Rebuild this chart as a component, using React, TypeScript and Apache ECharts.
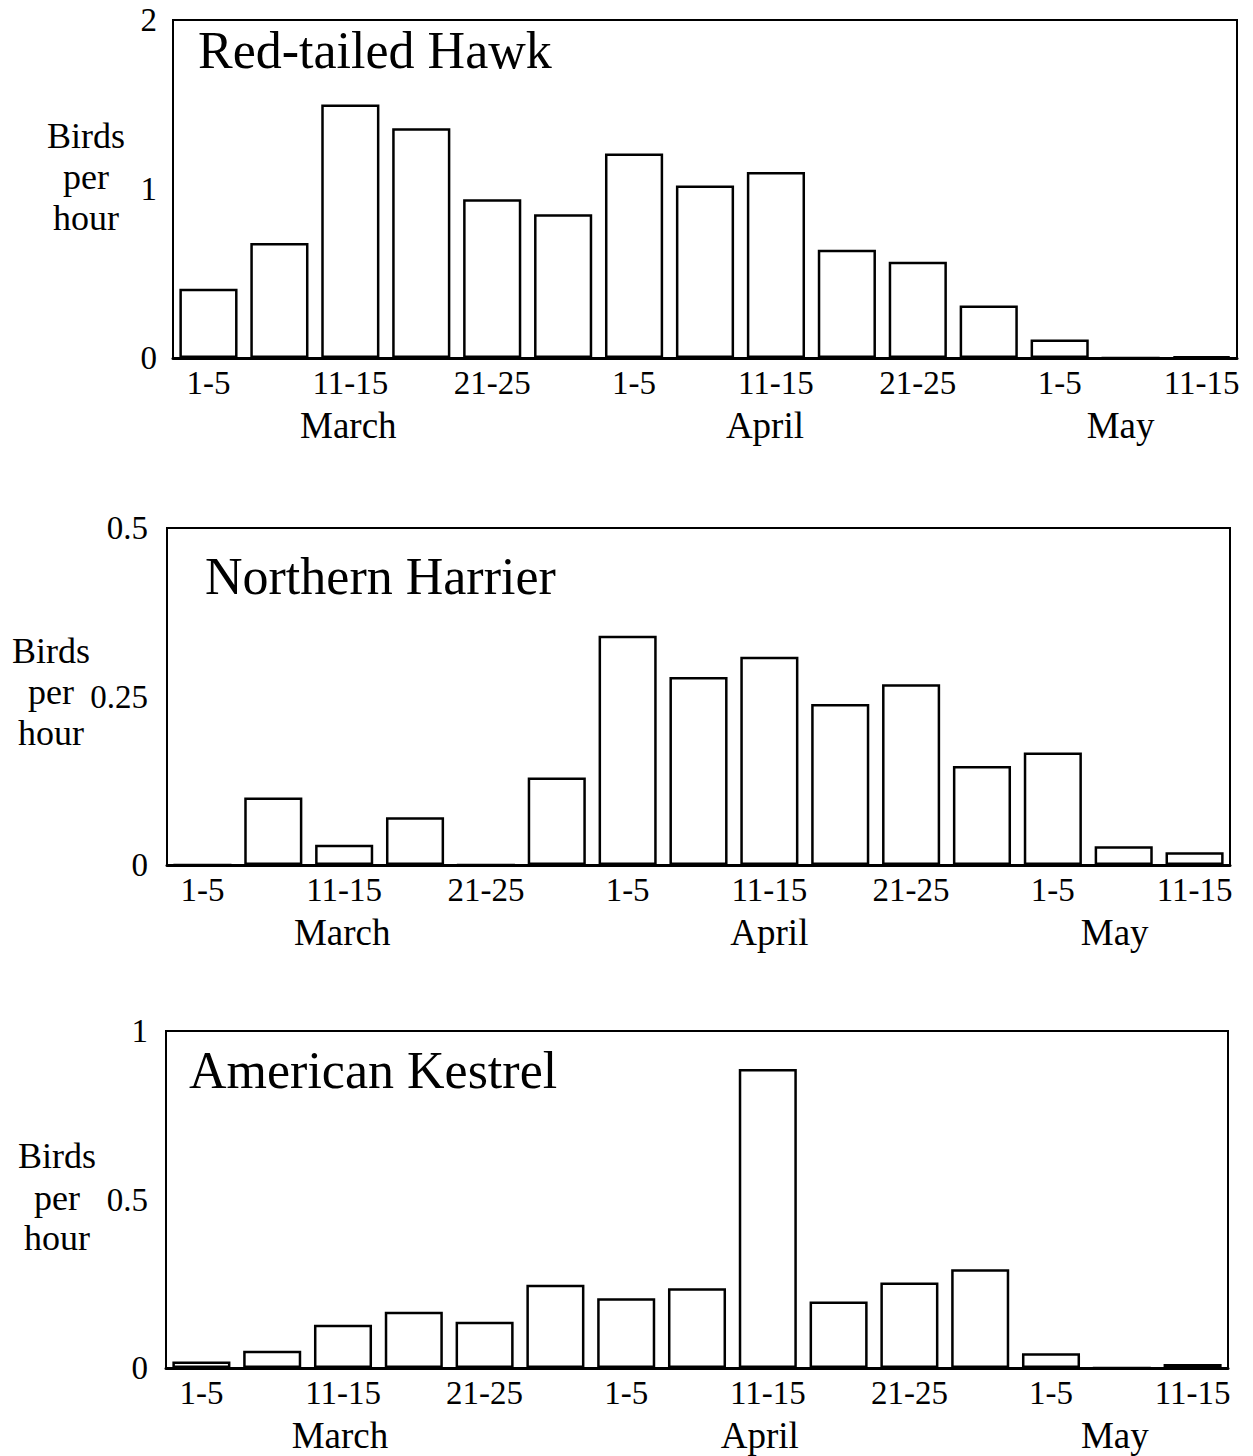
import React, { useEffect, useRef } from "react";
import * as echarts from "echarts";

const periods = ["1-5", "6-10", "11-15", "16-20", "21-25", "26-31", "1-5", "6-10", "11-15", "16-20", "21-25", "26-30", "1-5", "6-10", "11-15"];
const monthLabels = ["", "", "March", "", "", "", "", "", "April", "", "", "", "", "May", ""];

const redTailedHawk = [0.41, 0.68, 1.5, 1.36, 0.94, 0.85, 1.21, 1.02, 1.1, 0.64, 0.57, 0.31, 0.11, 0, 0.01];
const northernHarrier = [0, 0.1, 0.03, 0.071, 0, 0.13, 0.34, 0.279, 0.309, 0.239, 0.268, 0.147, 0.167, 0.028, 0.019];
const americanKestrel = [0.019, 0.051, 0.128, 0.167, 0.137, 0.247, 0.207, 0.237, 0.887, 0.197, 0.254, 0.293, 0.044, 0, 0.012];

const speciesNames = ["Red-tailed Hawk", "Northern Harrier", "American Kestrel"];
const yMax = [2, 0.5, 1];
const yInterval = [1, 0.25, 0.5];

const FONT = '"Liberation Serif", "Times New Roman", serif';

const grids = [
  { left: 173, top: 20, width: 1064, height: 338 },
  { left: 167, top: 528, width: 1063, height: 337 },
  { left: 166, top: 1031, width: 1062, height: 337 },
];
const yLabelMargin = [16, 19, 18];
// horizontal shift (px, negative = left) of each month name per panel
const monthShift = [
  { March: -2, April: -11, May: -10 },
  { March: -2, April: 0, May: -9 },
  { March: -3, April: -8, May: -7 },
];
const titlePos = [
  { x: 198, y: 50 },
  { x: 205, y: 576 },
  { x: 189, y: 1070 },
];
const yTitlePos = [
  { x: 86, ys: [136, 177, 218] },
  { x: 51, ys: [651, 692, 733] },
  { x: 57, ys: [1156, 1198, 1238] },
];

function textEl(text: string, x: number, y: number, size: number, align: string) {
  return {
    type: "text",
    x,
    y,
    silent: true,
    style: {
      text,
      x: 0,
      y: 0,
      fill: "#000",
      font: `${size}px ${FONT}`,
      textAlign: align,
      align,
      textVerticalAlign: "middle",
      verticalAlign: "middle",
    },
  };
}

function monthRich(i: number) {
  const rich: any = {};
  Object.entries(monthShift[i]).forEach(([m, s]) => {
    const off = s as number;
    rich[m] = {
      fontFamily: FONT,
      fontSize: 37,
      color: "#000",
      lineHeight: 42,
      padding: off < 0 ? [0, -2 * off, 0, 0] : [0, 0, 0, 2 * off],
    };
  });
  return rich;
}

export default function App() {
  const ref = useRef<HTMLDivElement>(null);
  useEffect(() => {
    if (!ref.current) return;
    const chart = echarts.init(ref.current, null, { renderer: "svg" });
    const data = [redTailedHawk, northernHarrier, americanKestrel];
    const graphic: any[] = [];
    speciesNames.forEach((n, i) => {
      graphic.push(textEl(n, titlePos[i].x, titlePos[i].y, 52, "left"));
      ["Birds", "per", "hour"].forEach((w, k) => {
        graphic.push(textEl(w, yTitlePos[i].x, yTitlePos[i].ys[k], 36, "center"));
      });
    });
    chart.setOption({
      animation: false,
      backgroundColor: "#fff",
      grid: grids.map((g) => ({
        ...g,
        show: true,
        borderColor: "#000",
        borderWidth: 2,
        backgroundColor: "transparent",
        containLabel: false,
      })),
      xAxis: grids.map((_, i) => ({
        type: "category",
        gridIndex: i,
        data: periods,
        axisLine: { show: true, lineStyle: { color: "#000", width: 3 } },
        axisTick: { show: false },
        splitLine: { show: false },
        axisLabel: {
          interval: 0,
          margin: 4,
          color: "#000",
          fontFamily: FONT,
          fontSize: 33,
          lineHeight: 42,
          rich: monthRich(i),
          formatter: (v: string, idx: number) => {
            const tick = idx % 2 === 0 ? v : " ";
            const m = monthLabels[idx];
            return m ? `${tick}\n{${m}|${m}}` : tick;
          },
        },
      })),
      yAxis: grids.map((_, i) => ({
        type: "value",
        gridIndex: i,
        min: 0,
        max: yMax[i],
        interval: yInterval[i],
        axisLine: { show: false },
        axisTick: { show: false },
        splitLine: { show: false },
        axisLabel: {
          margin: yLabelMargin[i],
          color: "#000",
          fontFamily: FONT,
          fontSize: 33,
        },
      })),
      series: data.map((d, i) => ({
        type: "bar",
        xAxisIndex: i,
        yAxisIndex: i,
        data: d,
        barWidth: "82%",
        itemStyle: { color: "#fff", borderColor: "#000", borderWidth: 2.5 },
        emphasis: { disabled: true },
      })),
      graphic,
    });
    return () => chart.dispose();
  }, []);
  return (
    <div
      ref={ref}
      style={{ position: "absolute", left: 0, top: 0, width: 1253, height: 1456, background: "#fff" }}
    />
  );
}
